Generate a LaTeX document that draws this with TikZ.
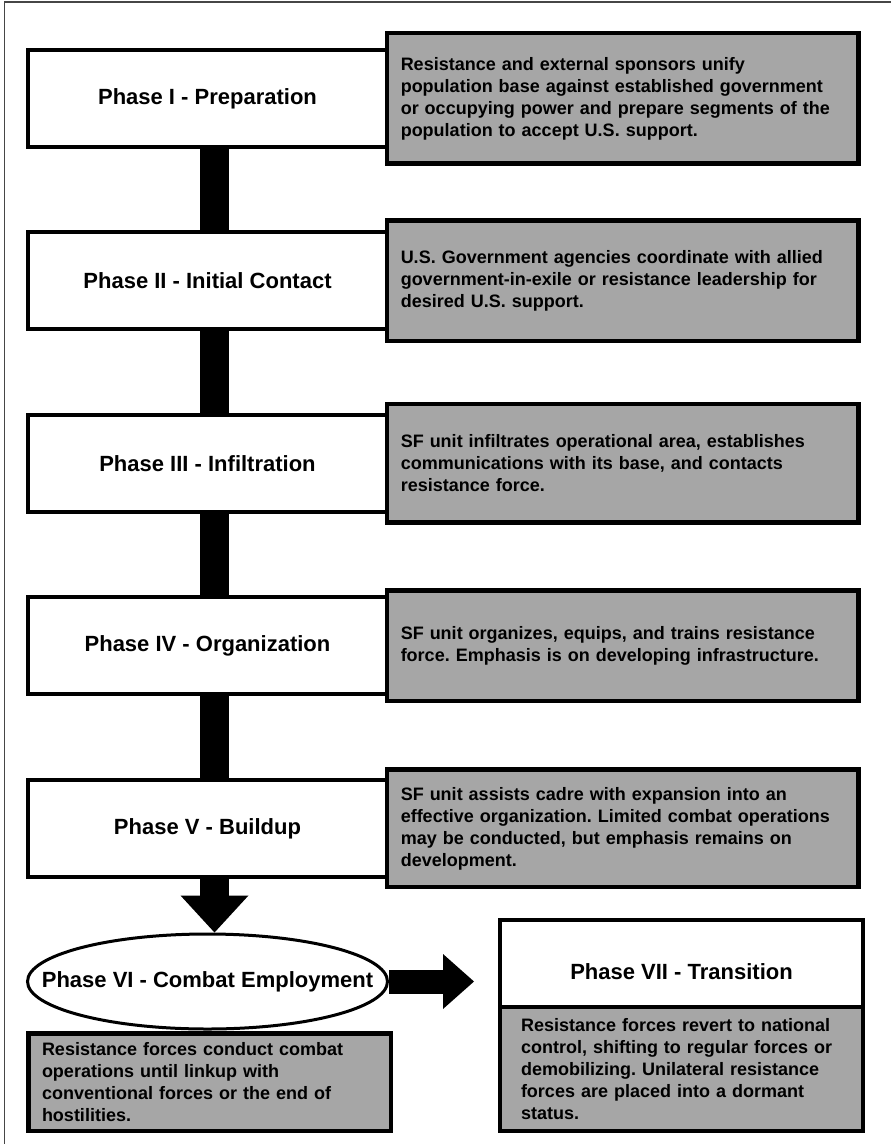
\documentclass[tikz,border=0pt]{standalone}
\usepackage{fontspec}
\setmainfont{Liberation Sans}
\usetikzlibrary{positioning, arrows.meta, shapes.geometric}
\frenchspacing

\definecolor{boxgray}{RGB}{166,166,166}
\definecolor{framegray}{RGB}{70,70,70}

\begin{document}
\begin{tikzpicture}[x=1pt, y=-1pt, node distance=85.5pt,
    phase/.style={draw, line width=4pt, fill=white, outer sep=0pt,
      minimum width=359pt, minimum height=97pt,
      font=\bfseries\fontsize{22}{26}\selectfont},
    info/.style={draw, line width=4.5pt, fill=boxgray, outer sep=0pt,
      inner xsep=13.75pt, text width=444pt, align=left,
      font=\bfseries\fontsize{18}{22}\selectfont},
    bar/.style={line width=29pt}]
  \useasboundingbox (0,0) rectangle (891,1144);
  \draw[framegray, line width=1.5pt] (4.5,1144) -- (4.5,2) -- (891,2);

  % phases down the left side
  \node[phase]            (p1) at (207.5,98.4) {Phase I - Preparation};
  \node[phase]            (p2) [below=of p1]   {Phase II - Initial Contact};
  \node[phase]            (p3) [below=of p2]   {Phase III - Infiltration};
  \node[phase]            (p4) [below=of p3]   {Phase IV - Organization};
  \node[phase]            (p5) [below=of p4]   {Phase V - Buildup};
  \node[ellipse, draw, line width=3pt, fill=white, inner sep=0pt,
        minimum width=360pt, minimum height=95pt,
        font=\bfseries\fontsize{22}{26}\selectfont]
                          (p6) [below=55.6pt of p5] {\makebox[0pt]{Phase VI - Combat Employment}};
  \node[phase, minimum width=363pt, minimum height=87pt, text height=32pt]
                          (p7) at (681.5,963.5) {Phase VII - Transition};

  % descriptions
  \node[info, minimum height=130.5pt] (d1) [right=0pt of p1]
    {Resistance and external sponsors unify\\
     population base against established government\\
     or occupying power and prepare segments of the\\
     population to accept U.S. support.};
  \node[info, minimum height=120.5pt] (d2) [right=0pt of p2]
    {U.S. Government agencies coordinate with allied\\
     government-in-exile or resistance leadership for\\
     desired U.S. support.};
  \node[info, minimum height=118.5pt] (d3) [right=0pt of p3]
    {SF unit infiltrates operational area, establishes\\
     communications with its base, and contacts\\
     resistance force.};
  \node[info, minimum height=110.5pt] (d4) [right=0pt of p4]
    {SF unit organizes, equips, and trains resistance\\
     force. Emphasis is on developing infrastructure.};
  \node[info, minimum height=117.5pt] (d5) [right=0pt of p5]
    {SF unit assists cadre with expansion into an\\
     effective organization. Limited combat operations\\
     may be conducted, but emphasis remains on\\
     development.};
  \node[info, text width=335pt, minimum height=97.5pt] (d6) [below=3pt of p6, xshift=2pt]
    {Resistance forces conduct combat\\
     operations until linkup with\\
     conventional forces or the end of\\
     hostilities.};
  \node[info, text width=321pt, inner xsep=21pt, minimum height=124pt] (d7) [below=0pt of p7]
    {Resistance forces revert to national\\
     control, shifting to regular forces or\\
     demobilizing. Unilateral resistance\\
     forces are placed into a dormant\\
     status.};

  % connectors
  \foreach \a/\b in {p1/p2, p2/p3, p3/p4, p4/p5}
    \draw[bar] ([xshift=7pt]\a.south) -- ([xshift=7pt]\b.north);
  \draw[bar, -{Triangle[length=37pt, width=68pt, line width=0pt]}]
    ([xshift=7pt]p5.south) -- ([xshift=7pt]p6.north);
  \draw[line width=24pt, -{Triangle[length=31pt, width=55pt, line width=0pt]}]
    (p6.east) -- ([xshift=-26pt]p6.east -| p7.west);
\end{tikzpicture}
\end{document}
